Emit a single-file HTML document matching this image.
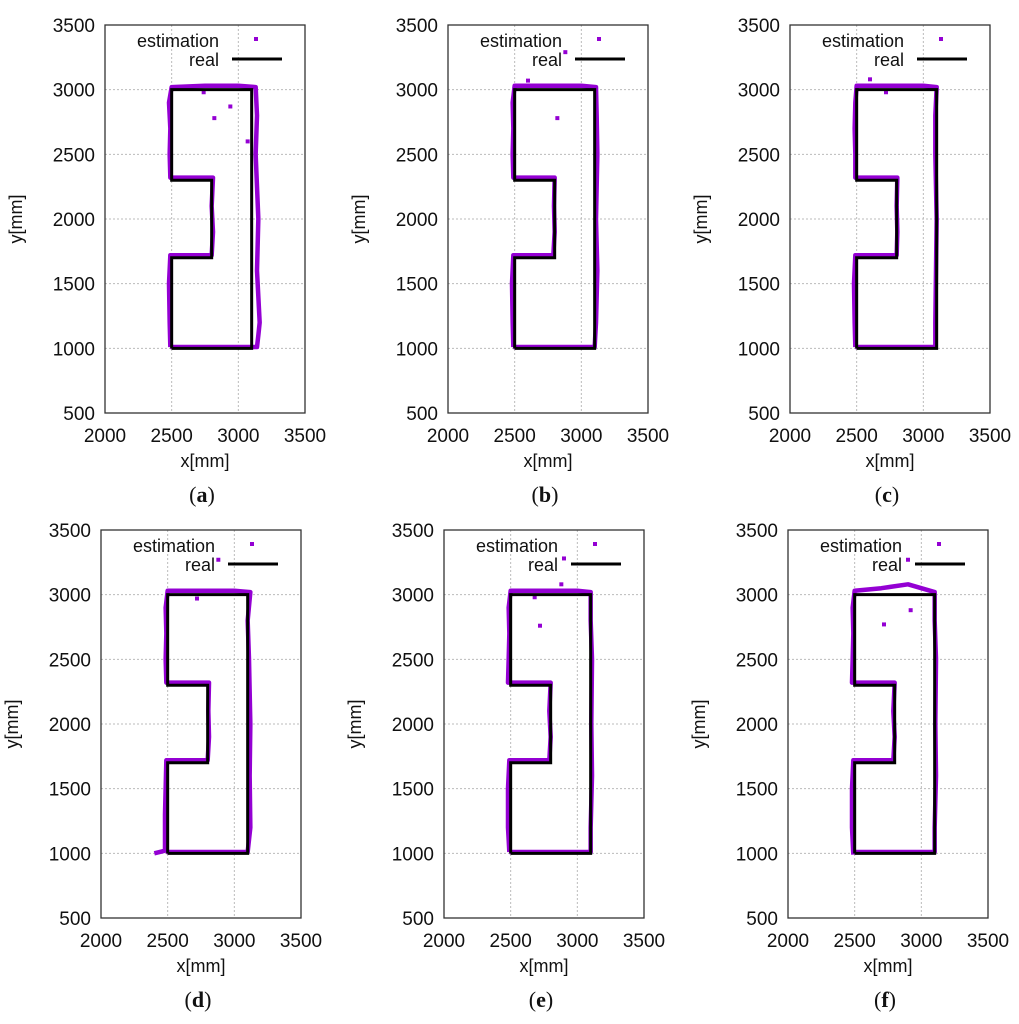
<!DOCTYPE html>
<html><head><meta charset="utf-8"><style>
html,body{margin:0;padding:0;background:#fff}
svg{display:block}
text{font-family:"Liberation Sans",sans-serif;fill:#111}
.cap{font-family:"Liberation Serif",serif;font-size:22px;fill:#111}
</style></head><body>
<svg id="fig" width="1019" height="1024" viewBox="0 0 1019 1024"></svg>
<script>
const xTicks=[2000,2500,3000,3500];
const yTicks=[500,1000,1500,2000,2500,3000,3500];
const realX=[2500,2500,2800,2800,2500,2500,3100,3100,2500];
const realY=[1000,1700,1700,2300,2300,3000,3000,1000,1000];
const panelLabels=['a','b','c','d','e','f'];
// estimation traces per panel (x,y in mm)
const estAX=[2490,2485,2480,2490,2800,2810,2800,2810,2490,2485,2490,2480,2500,2750,3000,3130,3140,3130,3150,3140,3160,3150,3140,3020,2490];
const estAY=[1010,1200,1500,1720,1720,1900,2100,2320,2320,2500,2700,2900,3020,3030,3030,3020,2800,2500,2000,1600,1200,1100,1010,1010,1010];
const estBX=[2490,2485,2480,2490,2790,2800,2795,2800,2490,2485,2490,2485,2500,2700,3000,3110,3115,3120,3110,3120,3110,3100,2490];
const estBY=[1010,1200,1500,1720,1720,1900,2100,2320,2320,2500,2700,2900,3030,3030,3030,3020,2800,2500,2000,1600,1200,1010,1010];
const estCX=[2490,2485,2480,2490,2800,2805,2800,2805,2490,2490,2485,2490,2500,2700,3000,3100,3090,3090,3100,3095,3090,3090,2490];
const estCY=[1010,1200,1500,1720,1720,1900,2100,2320,2320,2500,2700,2900,3030,3030,3030,3020,2800,2500,2000,1600,1200,1010,1010];
const estDX=[2400,2480,2480,2490,2800,2810,2805,2810,2490,2485,2490,2485,2500,2700,3000,3120,3100,3110,3120,3115,3120,3100,2490];
const estDY=[1000,1020,1300,1720,1720,1900,2100,2320,2320,2500,2700,2900,3030,3030,3030,3020,2800,2500,2000,1600,1200,1010,1010];
const estEX=[2490,2480,2480,2490,2790,2800,2790,2800,2480,2485,2490,2485,2500,2800,3000,3100,3100,3110,3105,3110,3100,3100,2490];
const estEY=[1010,1200,1500,1720,1720,1900,2100,2320,2320,2500,2700,2900,3030,3030,3030,3020,2800,2500,2000,1600,1200,1010,1010];
const estFX=[2490,2480,2480,2490,2790,2800,2790,2800,2480,2485,2490,2485,2500,2700,2900,3100,3100,3110,3105,3110,3100,3100,2490];
const estFY=[990,1200,1500,1720,1720,1900,2100,2320,2320,2500,2700,2900,3030,3050,3080,3020,2800,2500,2000,1600,1200,1010,1010];
const outAX=[2940,2820,2740,3070];const outAY=[2870,2780,2980,2600];
const outBX=[2820,2600,2880];const outBY=[2780,3070,3290];
const outCX=[2600,2720];const outCY=[3080,2980];
const outDX=[2720,2880];const outDY=[2970,3270];
const outEX=[2720,2680,2880,2900];const outEY=[2760,2980,3080,3280];
const outFX=[2720,2920,2900];const outFY=[2770,2880,3270];
const estXs=[estAX,estBX,estCX,estDX,estEX,estFX];
const estYs=[estAY,estBY,estCY,estDY,estEY,estFY];
const outXs=[outAX,outBX,outCX,outDX,outEX,outFX];
const outYs=[outAY,outBY,outCY,outDY,outEY,outFY];
const lefts=[105,448,790,101,444,788];
const tops=[25,25,25,530,530,530];
const W=200,H=388;
const NS='http://www.w3.org/2000/svg';
const svg=document.getElementById('fig');
function mk(tag,attrs,parent){const e=document.createElementNS(NS,tag);for(const k in attrs)e.setAttribute(k,attrs[k]);(parent||svg).appendChild(e);return e;}
for(let p=0;p<6;p++){
  const L=lefts[p],T=tops[p];
  const sx=v=>L+(v-2000)/1500*W;
  const sy=v=>T+(3500-v)/3000*H;
  const g=mk('g',{});
  
  
  xTicks.forEach(t=>{
    if(t>2000&&t<3500){const l=mk('line',{x1:sx(t),x2:sx(t),y1:T,y2:T+H,stroke:'#bbb','stroke-dasharray':'2,2','stroke-width':1},g);}
    const tx=mk('text',{x:sx(t),y:T+H+29,'text-anchor':'middle','font-size':19},g);tx.textContent=t;
    
  });
  yTicks.forEach(t=>{
    if(t>500&&t<3500){const l=mk('line',{x1:L,x2:L+W,y1:sy(t),y2:sy(t),stroke:'#bbb','stroke-dasharray':'2,2','stroke-width':1},g);}
    const tx=mk('text',{x:L-10,y:sy(t)+7,'text-anchor':'end','font-size':19},g);tx.textContent=t;
    
  });
  const fr=mk('rect',{x:L,y:T,width:W,height:H,fill:'none',stroke:'#333','stroke-width':1.3},g);
  
  const ex=estXs[p],ey=estYs[p];
  const ep=mk('polyline',{points:ex.map((v,i)=>sx(v)+','+sy(ey[i])).join(' '),fill:'none',stroke:'#9400d3','stroke-width':4.5,'stroke-linejoin':'round'},g);
  
  outXs[p].forEach((v,i)=>{const r=mk('rect',{x:sx(v)-2,y:sy(outYs[p][i])-2,width:4,height:4,fill:'#9400d3'},g);
    });
  const rp=mk('polyline',{points:realX.map((v,i)=>sx(v)+','+sy(realY[i])).join(' '),fill:'none',stroke:'#000','stroke-width':3},g);
  
  const t1=mk('text',{x:L+114,y:T+22,'text-anchor':'end','font-size':18},g);t1.textContent='estimation';
  
  const m1=mk('rect',{x:L+149,y:T+12,width:4,height:4,fill:'#9400d3'},g);
  
  const t2=mk('text',{x:L+114,y:T+41,'text-anchor':'end','font-size':18},g);t2.textContent='real';
  
  const m2=mk('line',{x1:L+127,x2:L+177,y1:T+34,y2:T+34,stroke:'#000','stroke-width':3},g);
  
  const xl=mk('text',{x:L+W/2,y:T+H+54,'text-anchor':'middle','font-size':18},g);xl.textContent='x[mm]';
  
  const yl=mk('text',{x:0,y:0,'text-anchor':'middle','font-size':18,transform:'translate('+(L-83)+','+(T+H/2)+') rotate(-90)'},g);yl.textContent='y[mm]';
  
  const cp=mk('text',{x:L+W/2-3,y:T+H+89,'text-anchor':'middle',class:'cap'},g);
  cp.innerHTML='(<tspan font-weight="bold">'+panelLabels[p]+'</tspan>)';
  
}
</script>
</body></html>
